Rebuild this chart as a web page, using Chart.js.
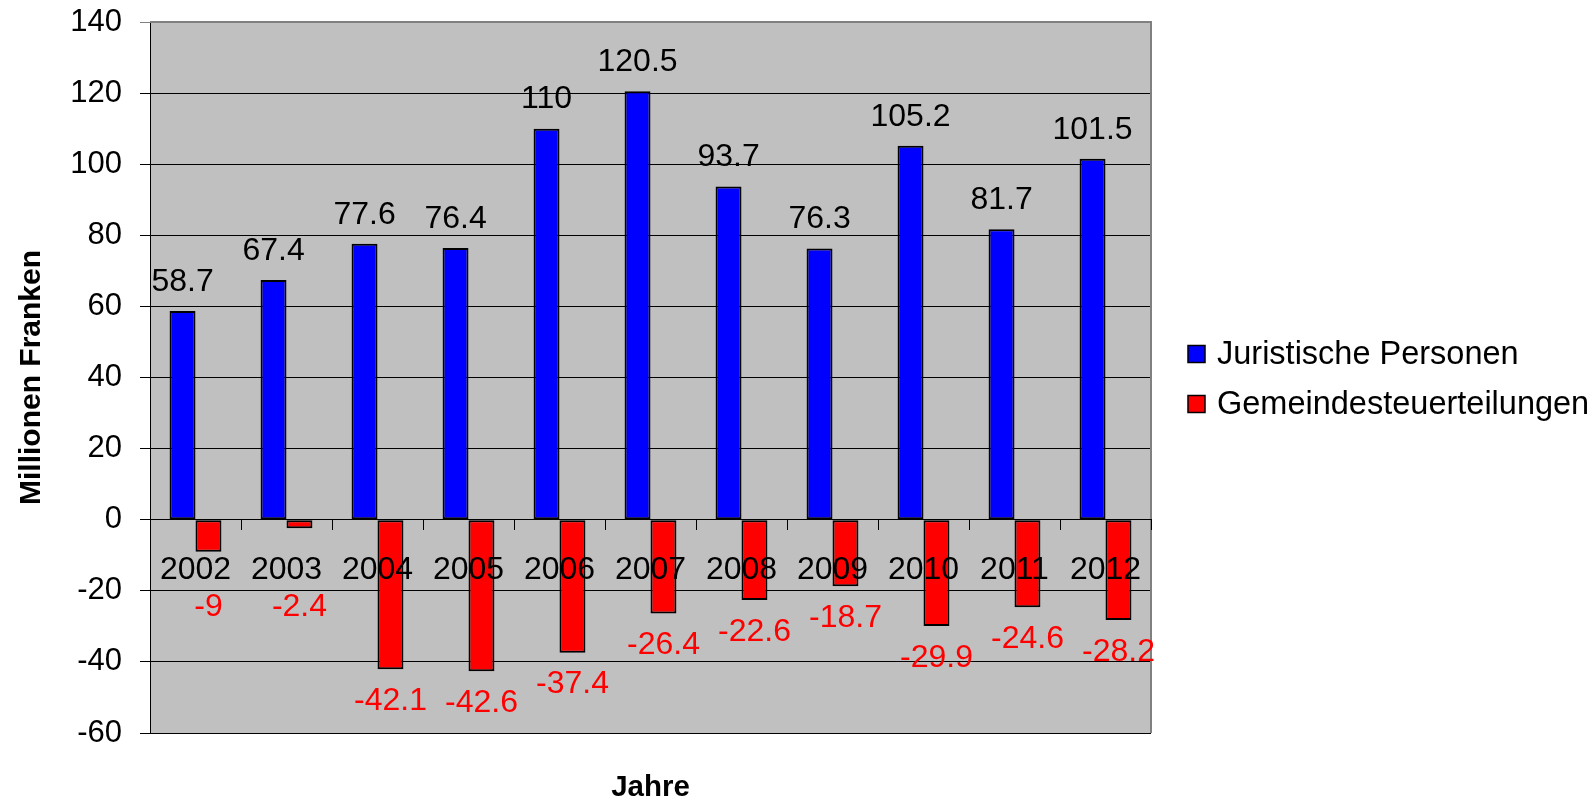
<!DOCTYPE html>
<html>
<head>
<meta charset="utf-8">
<script src="https://cdn.jsdelivr.net/npm/chart.js@4/dist/chart.umd.min.js"></script>
<style>
  html, body { margin: 0; padding: 0; background: #fff; }
  #wrap { width: 1594px; height: 804px; position: relative; }
</style>
</head>
<body>
<div id="wrap"><canvas id="c" width="1594" height="804"></canvas></div>
<script>
const years = ['2002','2003','2004','2005','2006','2007','2008','2009','2010','2011','2012'];
const juristischePersonen = [58.7, 67.4, 77.6, 76.4, 110, 120.5, 93.7, 76.3, 105.2, 81.7, 101.5];
const gemeindesteuerteilungen = [-9, -2.4, -42.1, -42.6, -37.4, -26.4, -22.6, -18.7, -29.9, -24.6, -28.2];
const seriesNames = ['Juristische Personen', 'Gemeindesteuerteilungen'];
const yTitle = 'Millionen Franken';
const xTitle = 'Jahre';

const FONT = '"Liberation Sans", Arial, Helvetica, sans-serif';

const plotBg = {
  id: 'plotBg',
  beforeDraw(chart) {
    const {ctx, chartArea: a} = chart;
    ctx.save();
    ctx.fillStyle = '#C0C0C0';
    ctx.fillRect(a.left, a.top, a.right - a.left, a.bottom - a.top);
    ctx.restore();
  },
  beforeDatasetsDraw(chart) {
    const {ctx, chartArea: a} = chart;
    ctx.save();
    ctx.strokeStyle = '#808080';
    ctx.lineWidth = 2;
    ctx.beginPath();
    ctx.moveTo(a.left, a.top);
    ctx.lineTo(a.right, a.top);
    ctx.lineTo(a.right, a.bottom);
    ctx.stroke();
    ctx.restore();
  }
};

const valueLabels = {
  id: 'valueLabels',
  afterDatasetsDraw(chart) {
    const {ctx} = chart;
    ctx.save();
    ctx.font = '32px ' + FONT;
    ctx.textAlign = 'center';
    ctx.textBaseline = 'middle';
    chart.data.datasets.forEach((ds, di) => {
      const meta = chart.getDatasetMeta(di);
      meta.data.forEach((el, i) => {
        const v = ds.data[i];
        let y;
        if (v >= 0) {
          y = el.y - 29;
          ctx.fillStyle = '#000000';
        } else {
          y = Math.max(el.y + 32, 607);
          ctx.fillStyle = '#FF0000';
        }
        ctx.fillText(String(v), el.x, y);
      });
    });
    ctx.restore();
  }
};

const extraText = {
  id: 'extraText',
  afterDraw(chart) {
    const {ctx, chartArea: a} = chart;
    ctx.save();
    // x axis title
    ctx.font = 'bold 29.5px ' + FONT;
    ctx.fillStyle = '#000';
    ctx.textAlign = 'center';
    ctx.textBaseline = 'middle';
    ctx.fillText(xTitle, (a.left + a.right) / 2, 788);
    // legend
    const midY = (a.top + a.bottom) / 2 + 1.5;
    ctx.font = '32.5px ' + FONT;
    ctx.textAlign = 'left';
    chart.data.datasets.forEach((ds, i) => {
      const cy = midY + (i - 0.5) * 50;
      const bx = a.right + 37;
      ctx.fillStyle = ds.backgroundColor;
      ctx.fillRect(bx, cy - 8.5, 17, 17);
      ctx.strokeStyle = '#000';
      ctx.lineWidth = 1.5;
      ctx.strokeRect(bx, cy - 8.5, 17, 17);
      ctx.fillStyle = '#000';
      ctx.fillText(ds.label, a.right + 66, cy + 1);
    });
    ctx.restore();
  }
};

new Chart(document.getElementById('c'), {
  type: 'bar',
  data: {
    labels: years,
    datasets: [
      {
        label: seriesNames[0],
        data: juristischePersonen,
        backgroundColor: '#0000FF',
        borderColor: '#000000',
        borderWidth: 2,
        borderSkipped: false
      },
      {
        label: seriesNames[1],
        data: gemeindesteuerteilungen,
        backgroundColor: '#FF0000',
        borderColor: '#000000',
        borderWidth: 2,
        borderSkipped: false
      }
    ]
  },
  options: {
    responsive: false,
    animation: false,
    devicePixelRatio: 1,
    layout: { padding: { left: 0, top: 22, right: 443, bottom: 71 } },
    datasets: {
      bar: { categoryPercentage: 0.57, barPercentage: 1.0 }
    },
    plugins: {
      legend: { display: false },
      tooltip: { enabled: false },
      title: { display: false }
    },
    scales: {
      x: {
        position: { y: 0 },
        grid: {
          display: true,
          drawOnChartArea: false,
          drawTicks: true,
          tickLength: 10,
          color: '#000000',
          lineWidth: 1,
          offset: true,
          z: 1
        },
        border: { display: true, color: '#000000', width: 1, z: 1 },
        ticks: {
          color: '#000000',
          font: { family: FONT, size: 32 },
          padding: 21,
          maxRotation: 0,
          autoSkip: false,
          z: 1
        }
      },
      y: {
        min: -60,
        max: 140,
        afterFit(scale) {
          scale.width = 150;
          scale.paddingTop = 0;
          scale.paddingBottom = 0;
        },
        ticks: {
          stepSize: 20,
          color: '#000000',
          font: { family: FONT, size: 31 },
          padding: 18
        },
        grid: {
          color: (c) => (c.tick && c.tick.value === 140) ? '#808080' : '#000000',
          lineWidth: 1,
          drawTicks: true,
          tickLength: 10
        },
        border: { display: true, color: '#000000', width: 1 },
        title: {
          display: true,
          text: yTitle,
          color: '#000000',
          font: { family: FONT, size: 30, weight: 'bold' },
          padding: { top: 14, bottom: 0 }
        }
      }
    }
  },
  plugins: [plotBg, valueLabels, extraText]
});
</script>
</body>
</html>
